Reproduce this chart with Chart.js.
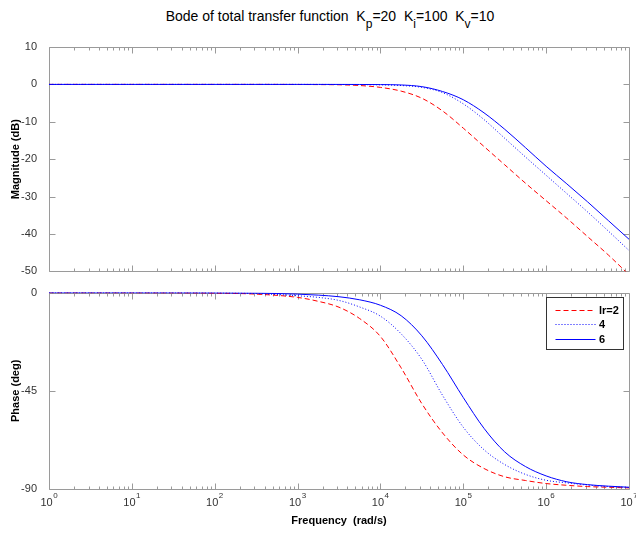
<!DOCTYPE html>
<html><head><meta charset="utf-8">
<script src="https://cdn.jsdelivr.net/npm/chart.js@4.4.1/dist/chart.umd.min.js"></script>
<style>
html,body{margin:0;padding:0;background:#fff;}
#wrap{position:relative;width:636px;height:535px;overflow:hidden;background:#fff;font-family:"Liberation Sans",Arial,sans-serif;}
#title{position:absolute;left:12px;width:636px;top:9px;text-align:center;font-size:14px;line-height:15px;white-space:pre;color:#000;}
#title sub{font-size:12px;vertical-align:-7px;line-height:0;}
canvas{position:absolute;left:0;}
#cA{top:0;} #cB{top:282px;}
</style></head><body>
<div id="wrap">
<div id="title">Bode of total transfer function  K<sub>p</sub>=20  K<sub>i</sub>=100  K<sub>v</sub>=10</div>
<canvas id="cA" width="636" height="282"></canvas>
<canvas id="cB" width="636" height="253"></canvas>
</div>
<script>
// ---- data ----
const freqExp   = [0, 1, 2, 2.5, 3, 3.25, 3.5, 3.75, 4, 4.25, 4.5, 4.75, 5, 5.25, 5.5, 5.75, 6, 6.25, 6.5, 6.75, 7];
const seriesLabels = ['lr=2', '4', '6'];
const magLr2   = [0, 0, 0, 0, -0.02, -0.05, -0.1, -0.3, -0.8, -1.8, -3.7, -7.1, -11.7, -16.6, -21.5, -26.4, -31.1, -35.8, -40.7, -45.6, -50.9];
const magLr4   = [0, 0, 0, 0, 0, -0.01, -0.03, -0.06, -0.12, -0.3, -0.8, -2.2, -5.2, -9.4, -14.4, -19.4, -24.3, -29.2, -34.1, -39.2, -44.4];
const magLr6   = [0, 0, 0, 0, 0, 0, -0.01, -0.02, -0.05, -0.15, -0.6, -1.9, -4.1, -7.6, -12.0, -16.9, -21.9, -26.6, -31.4, -36.4, -41.4];
const phaseLr2 = [-0.01, -0.05, -0.25, -0.7, -2.2, -4.0, -6.7, -11.9, -20.1, -34.5, -50.9, -64.3, -74.4, -80.6, -84.4, -86.1, -87.5, -88.3, -88.9, -89.2, -89.5];
const phaseLr4 = [0, -0.02, -0.13, -0.45, -1.45, -2.2, -3.6, -6.6, -10.8, -18.9, -30.6, -47.1, -61.7, -72.0, -78.8, -83.3, -86.0, -87.2, -88.2, -88.9, -89.3];
const phaseLr6 = [0, -0.01, -0.07, -0.22, -0.7, -1.15, -1.9, -3.3, -5.8, -10.6, -19.8, -33.0, -48.1, -62.2, -73.0, -79.7, -84.0, -86.7, -88.0, -88.7, -89.2];
const magTicks   = [-50, -40, -30, -20, -10, 0, 10];
const phaseTicks = [-90, -45, 0];
const decadeExps = [0, 1, 2, 3, 4, 5, 6, 7];

// ---- styles ----
const COLORS = ['#ff0000', '#0000ff', '#0000ff'];
const DASHES = [[5, 3], [1, 2], []];
const FRAME = '#9a9a9a';
const FONT = '"Liberation Sans", Arial, sans-serif';
Chart.defaults.font.family = FONT;

function mkDatasets(seriesList) {
  return seriesList.map((vals, i) => ({
    label: seriesLabels[i],
    data: freqExp.map((e, j) => ({x: Math.pow(10, e), y: vals[j]})),
    borderColor: COLORS[i],
    borderDash: DASHES[i],
    borderWidth: 1,
    pointRadius: 0,
    fill: false,
    cubicInterpolationMode: 'monotone',
    order: 2 - i
  }));
}

const framePlugin = {
  id: 'frame',
  beforeDatasetsDraw(chart) {
    const {ctx, chartArea: a} = chart;
    const xs = chart.scales.x, ys = chart.scales.y;
    const L = Math.round(a.left) + 0.5, R = Math.round(a.right) + 0.5;
    const T = Math.round(a.top) + 0.5, B = Math.round(a.bottom) + 0.5;
    ctx.save();
    ctx.strokeStyle = FRAME; ctx.lineWidth = 1;
    ctx.beginPath();
    ctx.rect(L, T, R - L, B - T);
    for (let k = 0; k < 7; k++) {
      for (let m = 1; m < 10; m++) {
        const px = Math.round(xs.getPixelForValue(m * Math.pow(10, k))) + 0.5;
        const len = m === 1 ? 6 : 3;
        ctx.moveTo(px, B); ctx.lineTo(px, B - len);
        ctx.moveTo(px, T); ctx.lineTo(px, T + len);
      }
    }
    ys.ticks.forEach(t => {
      const py = Math.round(ys.getPixelForValue(t.value)) + 0.5;
      ctx.moveTo(L, py); ctx.lineTo(L + 6, py);
      ctx.moveTo(R, py); ctx.lineTo(R - 6, py);
    });
    ctx.stroke();
    ctx.restore();
  }
};

const legendPlugin = {
  id: 'boxLegend',
  afterDatasetsDraw(chart) {
    const {ctx, chartArea: a} = chart;
    const w = 77, h = 52;
    const x0 = Math.round(a.right) - 6 - w + 0.5;
    const y0 = Math.round(a.top) + 4 + 0.5;
    ctx.save();
    ctx.fillStyle = '#fff';
    ctx.fillRect(x0, y0, w, h);
    ctx.strokeStyle = '#333'; ctx.lineWidth = 1; ctx.setLineDash([]);
    ctx.strokeRect(x0, y0, w, h);
    const rows = [12, 26.5, 41];
    chart.data.datasets.forEach((ds, i) => {
      const y = Math.round(y0 + rows[i]) + 0.5;
      ctx.beginPath();
      ctx.strokeStyle = ds.borderColor;
      ctx.setLineDash(ds.borderDash);
      ctx.moveTo(x0 + 9, y); ctx.lineTo(x0 + 49, y);
      ctx.stroke();
      ctx.setLineDash([]);
      ctx.fillStyle = '#000';
      ctx.font = 'bold 11px ' + FONT;
      ctx.textBaseline = 'middle'; ctx.textAlign = 'left';
      ctx.fillText(ds.label, x0 + 52.5, y);
    });
    ctx.restore();
  }
};

const xLabelPlugin = {
  id: 'xLabels',
  afterDraw(chart) {
    const {ctx, chartArea: a} = chart;
    const xs = chart.scales.x;
    ctx.save();
    ctx.fillStyle = '#333';
    ctx.textBaseline = 'alphabetic'; ctx.textAlign = 'left';
    decadeExps.forEach(k => {
      const px = xs.getPixelForValue(Math.pow(10, k));
      ctx.font = '11px ' + FONT;
      const w1 = ctx.measureText('10').width;
      ctx.font = '8px ' + FONT;
      const w2 = ctx.measureText(String(k)).width;
      const start = px - (w1 + w2 + 0.5) / 2;
      ctx.font = '11px ' + FONT;
      ctx.fillText('10', start, a.bottom + 17);
      ctx.font = '8px ' + FONT;
      ctx.fillText(String(k), start + w1 + 0.5, a.bottom + 9);
    });
    ctx.restore();
  }
};

function makeOptions(cfg) {
  return {
    responsive: false, animation: false, devicePixelRatio: 1, events: [],
    layout: {padding: cfg.padding},
    plugins: {legend: {display: false}, tooltip: {enabled: false}, title: {display: false}},
    scales: {
      x: {
        type: 'logarithmic', min: 1, max: 1e7, display: cfg.xDisplay,
        grid: {display: false}, border: {display: false}, ticks: {display: false},
        title: cfg.xTitle || {display: false},
        afterFit: s => { s.height = cfg.xHeight || 0; }
      },
      y: {
        type: 'linear', min: cfg.ymin, max: cfg.ymax,
        afterBuildTicks: s => { s.ticks = cfg.yTicks.map(v => ({value: v})); },
        grid: {display: false}, border: {display: false},
        ticks: {color: '#333', font: {size: 11}, padding: 4},
        title: {display: true, text: cfg.yTitle, color: '#000', font: {size: 11, weight: 'bold'}, padding: {top: 9.5, bottom: 0}},
        afterFit: s => { s.width = 49; }
      }
    }
  };
}

new Chart(document.getElementById('cA'), {
  type: 'line',
  data: {datasets: mkDatasets([magLr2, magLr4, magLr6])},
  options: makeOptions({
    padding: {left: 0, top: 47, right: 7, bottom: 9},
    xDisplay: false, ymin: -50, ymax: 10, yTicks: magTicks, yTitle: 'Magnitude (dB)'
  }),
  plugins: [framePlugin]
});

new Chart(document.getElementById('cB'), {
  type: 'line',
  data: {datasets: mkDatasets([phaseLr2, phaseLr4, phaseLr6])},
  options: makeOptions({
    padding: {left: 0, top: 10, right: 7, bottom: 0},
    xDisplay: true, xHeight: 46,
    xTitle: {display: true, text: 'Frequency  (rad/s)', color: '#000', font: {size: 11, weight: 'bold'}, padding: {top: 0, bottom: 7.4}},
    ymin: -90, ymax: 0, yTicks: phaseTicks, yTitle: 'Phase (deg)'
  }),
  plugins: [framePlugin, legendPlugin, xLabelPlugin]
});
</script>
</body></html>
